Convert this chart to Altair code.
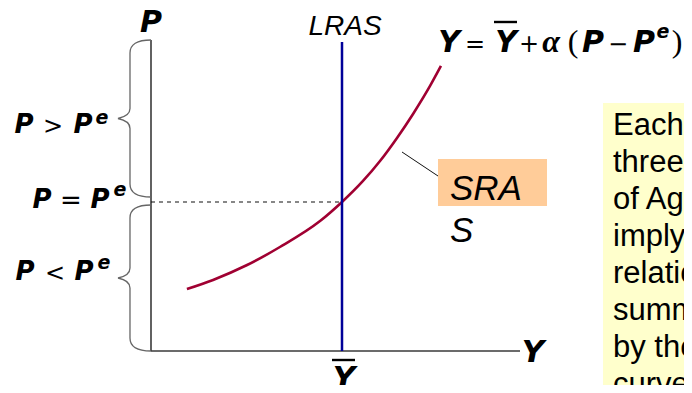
import altair as alt
import pandas as pd

# ---------------- data (economic units: Y-bar = 100, P^e = 100) ----------------
Y_BAR = 100.0
P_E = 100.0
sras_y = [18.8, 32.5, 50.3, 67.5, 88.5, 100.0, 111.0, 119.9, 128.8, 137.2, 146.1, 151.8]
sras_p = [41.6, 47.7, 57.7, 69.8, 87.2, 100.0, 114.1, 127.5, 143.0, 159.1, 177.9, 191.3]
x_axis_end = 193.2
y_axis_top = 208.7
lras_top = 207.4

box_lines = ["Each of the", "three models", "of Aggregate", "imply the",
             "relationship", "summarized", "by the SRAS", "curve and the"]

# ---------------- layout helpers (page pixels -> data units) ----------------
OX, OY = 151.0, 351.0      # page position of the origin
KX, KY = 1.91, 1.49        # pixels per unit
W, H = 676, 377            # chart size (page has an 8px margin)
def ux(px): return (px - OX) / KX
def uy(py): return (OY - py) / KY

XS = alt.Scale(domain=[ux(8), ux(8 + W)], nice=False, zero=False)
YS = alt.Scale(domain=[uy(8 + H), uy(8)], nice=False, zero=False)
def X(f="x"): return alt.X(f, type="quantitative", scale=XS, axis=None)
def Y(f="y"): return alt.Y(f, type="quantitative", scale=YS, axis=None)

layers = []

# background boxes
yellow = pd.DataFrame({"x": [ux(603)], "x2": [ux(720)], "y": [uy(103)], "y2": [uy(420)]})
orange = pd.DataFrame({"x": [ux(438)], "x2": [ux(547)], "y": [uy(159)], "y2": [uy(206)]})
for df, col in [(yellow, "#FFFFCC"), (orange, "#FFCC99")]:
    layers.append(alt.Chart(df).mark_rect(color=col).encode(
        x=X(), x2="x2", y=Y(), y2="y2"))

# axes
axes = pd.DataFrame({"x": [0, 0], "x2": [x_axis_end, 0], "y": [0, 0], "y2": [0, y_axis_top]})
layers.append(alt.Chart(axes).mark_rule(color="#3a3a3a", strokeWidth=1.6).encode(
    x=X(), x2="x2", y=Y(), y2="y2"))

# dashed P = P^e guide
dash = pd.DataFrame({"x": [0], "x2": [Y_BAR], "y": [P_E]})
layers.append(alt.Chart(dash).mark_rule(color="#111111", strokeWidth=1.2, strokeDash=[4, 4]).encode(
    x=X(), x2="x2", y=Y()))

# SRAS curve
sras = pd.DataFrame({"x": sras_y, "y": sras_p})
layers.append(alt.Chart(sras).mark_line(color="#A00032", strokeWidth=2.6, interpolate="monotone").encode(
    x=X(), y=Y()))

# LRAS
lras = pd.DataFrame({"x": [Y_BAR], "y": [0], "y2": [lras_top]})
layers.append(alt.Chart(lras).mark_rule(color="#000099", strokeWidth=2.5).encode(
    x=X(), y=Y(), y2="y2"))

# leader line to SRAS label
lead = pd.DataFrame({"x": [ux(402)], "x2": [ux(438)], "y": [uy(152)], "y2": [uy(176)]})
layers.append(alt.Chart(lead).mark_rule(color="#111111", strokeWidth=1).encode(
    x=X(), x2="x2", y=Y(), y2="y2"))

# overbars for Y-bar
bars = pd.DataFrame({"x": [ux(332), ux(494)], "x2": [ux(355), ux(517)], "y": [uy(360), uy(22)]})
layers.append(alt.Chart(bars).mark_rule(color="#000000", strokeWidth=2.4).encode(
    x=X(), x2="x2", y=Y()))

# curly braces
def brace_path(h):
    e, s, t = 17 / h, -4 / h, -16 / h
    r, k = 13 / h, 10 / h
    return (f"M{e:.3f},-1 Q{s:.3f},-1 {s:.3f},{-1 + r:.3f} L{s:.3f},{-k:.3f} "
            f"Q{s:.3f},{-0.25 * k:.3f} {t:.3f},0 Q{s:.3f},{0.25 * k:.3f} {s:.3f},{k:.3f} "
            f"L{s:.3f},{1 - r:.3f} Q{s:.3f},1 {e:.3f},1")

for top_px, bot_px in [(40, 197), (205, 351)]:
    h = (bot_px - top_px) / 2
    df = pd.DataFrame({"x": [ux(134)], "y": [uy((top_px + bot_px) / 2)]})
    layers.append(alt.Chart(df).mark_point(
        shape=brace_path(h), size=(2 * h) ** 2, filled=False, stroke="#666666",
        strokeWidth=1.3, opacity=1).encode(x=X(), y=Y()))

# ---------------- text ----------------
def text_layer(rows, font, weight="normal", style="normal", align="center", color="#000000"):
    df = pd.DataFrame(rows, columns=["t", "px", "py", "s"])
    df["x"] = df["px"].map(ux)
    df["y"] = df["py"].map(uy)
    return alt.Chart(df).mark_text(font=font, fontWeight=weight, fontStyle=style, align=align,
                                   baseline="alphabetic", color=color).encode(
        x=X(), y=Y(), text="t:N", size=alt.Size("s:Q", scale=None))

bold_math = [
    ["P", 151, 32, 30],
    ["P", 24, 133, 26], ["P", 83, 133, 26], ["e", 102, 123.5, 19],
    ["P", 42, 208, 26], ["P", 100, 208, 26], ["e", 120, 195.5, 19],
    ["P", 25, 280, 26], ["P", 84, 280, 26], ["e", 104, 268.5, 19],
    ["Y", 533, 362, 31],
    ["Y", 344, 388, 31],
    ["Y", 449, 52, 30], ["Y", 506, 52, 30], ["P", 593, 52, 30], ["P", 644, 52, 30],
    ["e", 663, 38, 19],
]
ops = [
    [">", 53, 134, 24], ["=", 71, 209, 26], ["<", 55, 281, 24],
    ["=", 475, 52, 24], ["+", 529, 52, 24], ["\u2212", 618, 52, 24],
]
serif_it = [["\u03b1", 551, 52, 32]]
serif = [["(", 573, 52, 32], [")", 677, 52, 32]]
sans_it_c = [["LRAS", 345, 35, 28]]
sans_it_l = [["SRA", 450, 200, 35], ["S", 450, 242, 35]]
box_rows = [[ln, 613, 135 + 37 * i, 31] for i, ln in enumerate(box_lines)]

layers.append(text_layer(bold_math, "DejaVu Sans", "bold", "italic"))
layers.append(text_layer(ops, "DejaVu Sans"))
layers.append(text_layer(serif_it, "Liberation Serif", "bold", "italic"))
layers.append(text_layer(serif, "Liberation Serif"))
layers.append(text_layer(sans_it_c, "Liberation Sans", "normal", "italic"))
layers.append(text_layer(sans_it_l, "Liberation Sans", "normal", "italic", align="left"))
layers.append(text_layer(box_rows, "Liberation Sans", align="left"))

chart = alt.layer(*layers).properties(
    width=W, height=H, padding=0,
    autosize=alt.AutoSizeParams(type="none"),
    background="#ffffff",
).configure_view(stroke=None)

chart.save("out.html", embed_options={"renderer": "svg", "actions": False})
